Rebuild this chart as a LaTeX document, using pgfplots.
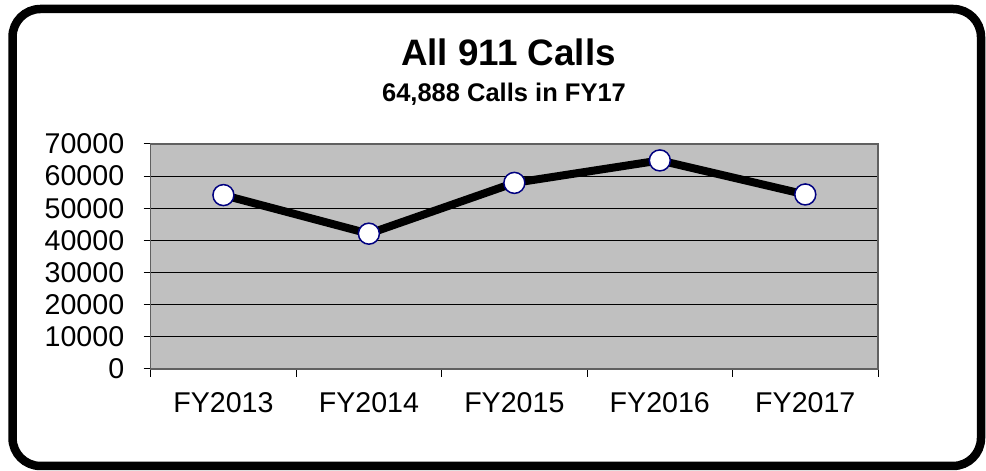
\documentclass[border=0pt]{standalone}
\usepackage{fontspec}
\setmainfont{Liberation Sans}
\usepackage{pgfplots}
\pgfplotsset{compat=1.18}
\definecolor{plotgray}{RGB}{192,192,192}
\definecolor{navyedge}{RGB}{0,0,128}
\definecolor{axisgray}{RGB}{96,96,96}
\begin{document}
\begin{tikzpicture}[x=1bp,y=1bp]
\useasboundingbox (0,0) rectangle (986,471);
\draw[line width=8.5bp, rounded corners=28bp] (12.5,5) rectangle (981,462);
\node[anchor=base, inner sep=0pt, font=\bfseries\fontsize{36.8bp}{40bp}\selectfont] at (508.5,405.3) {All 911 Calls};
\node[anchor=base, inner sep=0pt, font=\bfseries\fontsize{25.5bp}{28bp}\selectfont] at (504,369.3) {64,888 Calls in FY17};
\begin{axis}[
  at={(150.7bp,102bp)}, anchor=south west,
  scale only axis, width=727.3bp, height=225bp,
  xmin=-0.5, xmax=4.5, ymin=0, ymax=70000,
  ytick={0,10000,...,70000},
  xtick={0,1,2,3,4},
  xticklabels={FY2013,FY2014,FY2015,FY2016,FY2017},
  minor xtick={-0.5,0.5,1.5,2.5,3.5,4.5},
  major x tick style={draw=none},
  tick pos=left,
  tick align=outside,
  major tick length=7bp,
  minor tick length=8bp,
  tick style={black, line width=1bp},
  scaled y ticks=false,
  /pgf/number format/assume math mode=true,
  yticklabel style={/pgf/number format/.cd, fixed, set thousands separator={}, /tikz/.cd, xshift=-16bp},
  xticklabel style={yshift=-13bp},
  ticklabel style={font=\fontsize{28.6bp}{34bp}\selectfont},
  ymajorgrids,
  major grid style={black, line width=1bp},
  axis line style={axisgray, line width=1.5bp},
  axis background/.style={fill=plotgray},
  clip=false,
]
\addplot[black, line width=8bp, line join=round, mark=*, mark size=10.5bp,
  mark options={fill=white, draw=navyedge, line width=1.5bp}]
  coordinates {(0,54100) (1,42100) (2,57900) (3,64888) (4,54300)};
\end{axis}
\end{tikzpicture}
\end{document}
